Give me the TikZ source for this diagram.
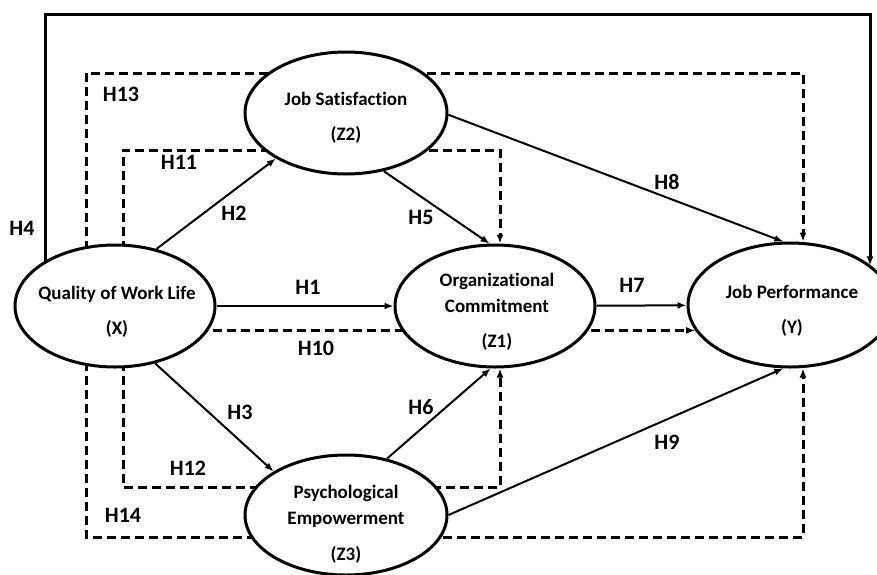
\documentclass[tikz,border=0pt]{standalone}
\usepackage{fontspec}
\setmainfont{Carlito}[Ligatures=NoCommon]
\usetikzlibrary{arrows.meta,shapes.geometric}
\pgfdeclarelayer{bg}
\pgfsetlayers{bg,main}

\begin{document}
\begin{tikzpicture}[x=1pt,y=-1pt,
    var/.style={ellipse,draw,line width=3pt,fill=white,inner sep=0pt},
    vartxt/.style={align=center,font=\fontsize{19}{21}\selectfont\bfseries},
    hyp/.style={font=\fontsize{22}{24}\selectfont\bfseries},
    direct/.style={line width=2pt,-{Latex[length=9pt,width=7pt]}},
    indirect/.style={line width=3pt,dash pattern=on 9pt off 5pt,-{Latex[length=9pt,width=7pt]}}]
  \useasboundingbox (0,0) rectangle (877,574);
  % latent variables
  \node[var,minimum width=200pt,minimum height=122pt] (qwl) at (115,306) {};
  \node[var,minimum width=202pt,minimum height=122pt] (js) at (346,113) {};
  \node[var,minimum width=200pt,minimum height=122pt] (oc) at (495,306) {};
  \node[var,minimum width=204pt,minimum height=124pt] (jp) at (790,305) {};
  \node[var,minimum width=202pt,minimum height=120pt] (pe) at (346,515) {};
  \node[vartxt] (qwl-t) at (117,312) {Quality of Work Life\\[14pt](X)};
  \node[vartxt] (js-t) at (346,118) {Job Satisfaction\\[14pt](Z2)};
  \node[vartxt] (oc-t) at (497,312) {Organizational\\[5pt]Commitment\\[14pt](Z1)};
  \node[vartxt] (jp-t) at (792,311) {Job Performance\\[14pt](Y)};
  \node[vartxt] (pe-t) at (346,524) {Psychological\\[5pt]Empowerment\\[15pt](Z3)};
  % corners of the routed paths
  \coordinate (c4a) at (45,14);   \coordinate (c4b) at (870,14);
  \coordinate (c13a) at (86,73);  \coordinate (c13b) at (803,73);
  \coordinate (c11a) at (123,150); \coordinate (c11b) at (500,150);
  \coordinate (c12a) at (123,487); \coordinate (c12b) at (500,487);
  \coordinate (c14a) at (86,537);  \coordinate (c14b) at (803,537);
  \begin{pgfonlayer}{bg}
    \draw[direct] (qwl) -- (oc);
    \draw[direct] (oc) -- (jp);
    \draw[direct] (qwl.54) -- (js.213);
    \draw[direct] (qwl.305) -- (pe.149);
    \draw[direct] (js.303) -- (oc.95);
    \draw[direct] (pe.54) -- (oc.266);
    \draw[direct] (js.359) -- (jp.96);
    \draw[direct] (pe.0) -- (jp.264);
    \draw[line width=3pt,-{Latex[length=9pt,width=7pt]}]
      (qwl.center -| c4a) -- (c4a) -- (c4b) -- (c4b |- jp.26);
    \draw[indirect] (jp.195 -| qwl.center) -- (jp.195);
    \draw[indirect] (qwl.center -| c13a) -- (c13a) -- (c13b) -- (c13b |- jp.north);
    \draw[indirect] (qwl.center -| c11a) -- (c11a) -- (c11b) -- (c11b |- oc.north);
    \draw[indirect] (qwl.center -| c12a) -- (c12a) -- (c12b) -- (c12b |- oc.south);
    \draw[indirect] (qwl.center -| c14a) -- (c14a) -- (c14b) -- (c14b |- jp.south);
  \end{pgfonlayer}
  % hypothesis labels
  \foreach \n/\x/\y in {1/308/287,2/234/213,3/240/412,4/22/228,5/421/217,6/421/407,
      7/632/285,8/667/182,9/667/442,10/316/348,11/179/162,12/188/468,13/121/94,14/123/515}
    \node[hyp] (h\n) at (\x,\y) {H\n};
\end{tikzpicture}
\end{document}
